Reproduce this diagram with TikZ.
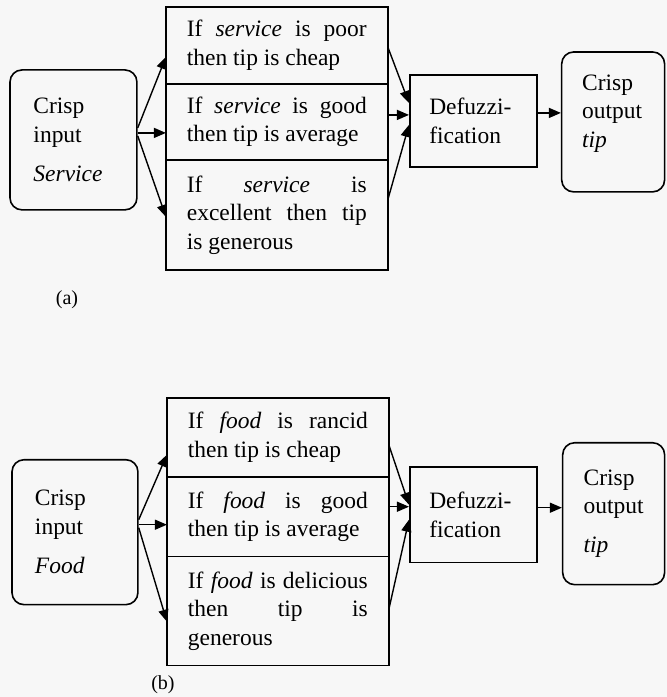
\documentclass[tikz,border=0pt]{standalone}
\usepackage{fontspec}
\setmainfont{Liberation Serif}
\usetikzlibrary{arrows.meta, positioning}
\hyphenpenalty=10000
\tolerance=9999
\tikzset{
  crisp/.style={
      draw,
      rectangle,
      rounded corners=12pt,
      line width=1.6pt,
      minimum width=127pt,
      minimum height=140pt,
      text width=80pt,
      align=left
  },
  rulebox/.style={
      draw,
      rectangle,
      line width=1.6pt,
      outer sep=0pt,
      minimum width=222pt,
      inner xsep=21pt,
      text width=180pt,
      align=justify,
      anchor=north west
  },
  defuzz/.style={
      draw,
      rectangle,
      line width=1.6pt,
      minimum width=127pt,
      minimum height=92pt,
      text width=88pt,
      align=left
  },
  arrow/.style={-{Triangle[length=12pt,width=10pt]}, line width=1.4pt}
}
\begin{document}
\begin{tikzpicture}[x=1pt, y=1pt, font=\fontsize{23.5}{28.5}\selectfont]
      \fill[black!3] (0,0) rectangle (667,697);

      % (a) service
      \node (inA) [crisp] at (73.5,557) {Crisp\\input\\[11pt]\textit{Service}};
      \node (r1A) [rulebox, minimum height=77pt] at (166,690) {If \textit{service} is poor\linebreak then tip is cheap};
      \node (r2A) [rulebox, minimum height=76pt, below=0pt of r1A] {If \textit{service} is good\linebreak then tip is average};
      \node (r3A) [rulebox, minimum height=110pt, below=0pt of r2A] {If \textit{service} is\linebreak excellent then tip\linebreak is generous};
      \node (dA) [defuzz] at (473.5,576) {\mbox{Defuzzi-}\\fication};
      \node (outA) [crisp, minimum width=103pt, text width=62pt] at (613.5,575) {\parbox[c][94pt][t]{62pt}{Crisp\\output\\\textit{tip}}};
      \node (labA) [font=\fontsize{20}{24}\selectfont] at (67,397) {(a)};

      \draw[arrow] ([yshift=12pt]inA.east) -- ([yshift=-11.5pt]r1A.west);
      \draw[arrow] ([yshift=7pt]inA.east) -- ([yshift=-11pt]r2A.west);
      \draw[arrow] ([yshift=4pt]inA.east) -- ([yshift=-2pt]r3A.west);
      \draw[arrow] ([yshift=-1.5pt]r1A.east) -- ([yshift=18pt]dA.west);
      \draw[arrow] ([yshift=7pt]r2A.east) -- ([yshift=6pt]dA.west);
      \draw[arrow] ([yshift=15pt]r3A.east) -- ([yshift=-4pt]dA.west);
      \draw[arrow] ([yshift=8pt]dA.east) -- ([yshift=9pt]outA.west);

      % (b) food
      \node (inB) [crisp, minimum width=126pt, minimum height=145pt] at (75,164.5) {Crisp\\input\\[11pt]\textit{Food}};
      \node (r1B) [rulebox, minimum height=79pt] at (167,299) {If \textit{food} is rancid\linebreak then tip is cheap};
      \node (r2B) [rulebox, minimum height=80pt, below=0pt of r1B] {If \textit{food} is good\linebreak then tip is average};
      \node (r3B) [rulebox, minimum height=109pt, below=0pt of r2B] {If \textit{food} is delicious\linebreak then tip is\linebreak generous};
      \node (dB) [defuzz, minimum height=96pt] at (473.5,182) {\mbox{Defuzzi-}\\fication};
      \node (outB) [crisp, minimum width=102pt, minimum height=142pt, text width=60pt] at (614,183) {Crisp\\output\\[10pt]\textit{tip}};
      \node (labB) [font=\fontsize{20}{24}\selectfont] at (163,12) {(b)};

      \draw[arrow] ([yshift=12.5pt]inB.east) -- ([yshift=-17.5pt]r1B.west);
      \draw[arrow] ([yshift=7.5pt]inB.east) -- ([yshift=-8pt]r2B.west);
      \draw[arrow] ([yshift=4.5pt]inB.east) -- ([yshift=-10.5pt]r3B.west);
      \draw[arrow] ([yshift=-7.5pt]r1B.east) -- ([yshift=10pt]dB.west);
      \draw[arrow] ([yshift=10pt]r2B.east) -- ([yshift=8pt]dB.west);
      \draw[arrow] ([yshift=1.5pt]r3B.east) -- ([yshift=-5pt]dB.west);
      \draw[arrow] ([yshift=7pt]dB.east) -- ([yshift=6pt]outB.west);
\end{tikzpicture}
\end{document}
